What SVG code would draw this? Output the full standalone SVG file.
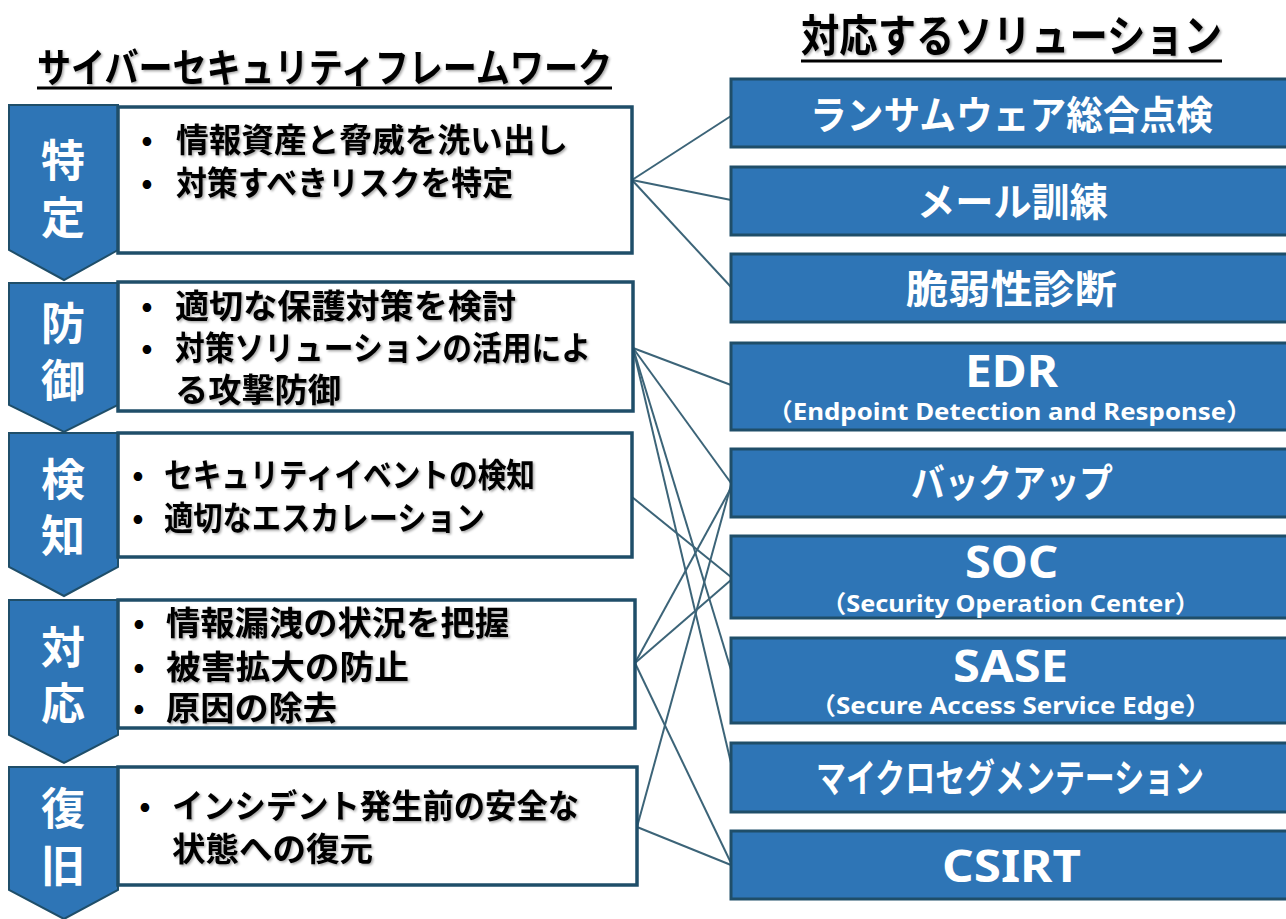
<svg xmlns="http://www.w3.org/2000/svg" width="1286" height="919" viewBox="0 0 1286 919">
<defs>
<filter id="sh" x="-5%" y="-20%" width="110%" height="140%">
<feDropShadow dx="1.5" dy="1.5" stdDeviation="0.8" flood-color="#000" flood-opacity="0.35"/>
</filter>
<style>
.chev{fill:#2E75B6;stroke:#1F4E69;stroke-width:2}
.box{fill:#fff;stroke:#1F4E69;stroke-width:3.5}
.sol{fill:#2E75B6;stroke:#1F4E69;stroke-width:3}
.jp{font-family:'Noto Sans CJK JP','Noto Sans CJK SC',sans-serif;font-weight:bold}
.lat{font-family:'Noto Sans','Open Sans','Noto Sans CJK JP',sans-serif;font-weight:bold}
.stage{fill:#fff;font-size:44px;text-anchor:middle}
.item{fill:#000;font-size:33px}
.bul{fill:#000;font-size:30px;text-anchor:middle}
.wt{fill:#fff;font-size:39px}
.big{fill:#fff;font-size:44px}
.sub{fill:#fff;font-size:24px}
.ttl{fill:#000}
.ul{stroke:#000;stroke-width:3}
.con line{stroke:#3C6478;stroke-width:2}
</style>
</defs>
<rect width="1286" height="919" fill="#fff"/>

<g id="title-left">
<text class="jp ttl" x="37" y="82" font-size="40" textLength="575" lengthAdjust="spacingAndGlyphs" filter="url(#sh)">サイバーセキュリティフレームワーク</text>
<line class="ul" x1="37" y1="88" x2="612" y2="88"/>
</g>
<g id="title-right">
<text class="jp ttl" x="801" y="52" font-size="44" textLength="421" lengthAdjust="spacingAndGlyphs" filter="url(#sh)">対応するソリューション</text>
<line class="ul" x1="801" y1="61" x2="1222" y2="61"/>
</g>

<g class="con" id="connectors">
<line x1="632" y1="180" x2="731" y2="116"/>
<line x1="632" y1="180" x2="731" y2="200"/>
<line x1="632" y1="180" x2="731" y2="287"/>
<line x1="633" y1="348" x2="731" y2="385"/>
<line x1="633" y1="348" x2="731" y2="483"/>
<line x1="633" y1="348" x2="731" y2="670"/>
<line x1="633" y1="348" x2="731" y2="763"/>
<line x1="632" y1="497" x2="731" y2="577"/>
<line x1="635" y1="663" x2="731" y2="488"/>
<line x1="635" y1="663" x2="731" y2="580"/>
<line x1="635" y1="663" x2="731" y2="863"/>
<line x1="637" y1="827" x2="731" y2="485"/>
<line x1="637" y1="827" x2="731" y2="865"/>
</g>

<g id="stage-identify">
<polygon class="chev" points="9,105 118,105 118,250 64,280 9,250"/>
<text class="jp stage" x="63" y="177">特</text>
<text class="jp stage" x="63" y="234">定</text>
<rect class="box" x="118" y="107" width="514" height="146"/>
<text class="jp bul" x="147" y="150">•</text>
<text class="jp item" x="176" y="152" textLength="392" lengthAdjust="spacingAndGlyphs" filter="url(#sh)">情報資産と脅威を洗い出し</text>
<text class="jp bul" x="147" y="193">•</text>
<text class="jp item" x="176" y="195" textLength="337" lengthAdjust="spacingAndGlyphs" filter="url(#sh)">対策すべきリスクを特定</text>
</g>

<g id="stage-protect">
<polygon class="chev" points="9,283 118,283 118,405 64,432 9,405"/>
<text class="jp stage" x="63" y="340">防</text>
<text class="jp stage" x="63" y="397">御</text>
<rect class="box" x="118" y="282" width="515" height="129"/>
<text class="jp bul" x="147" y="316">•</text>
<text class="jp item" x="175" y="318" textLength="341" lengthAdjust="spacingAndGlyphs" filter="url(#sh)">適切な保護対策を検討</text>
<text class="jp bul" x="147" y="358">•</text>
<text class="jp item" x="175" y="360" textLength="416" lengthAdjust="spacingAndGlyphs" filter="url(#sh)">対策ソリューションの活用によ</text>
<text class="jp item" x="175" y="402" textLength="166" lengthAdjust="spacingAndGlyphs" filter="url(#sh)">る攻撃防御</text>
</g>

<g id="stage-detect">
<polygon class="chev" points="9,433 118,433 118,567 64,596 9,567"/>
<text class="jp stage" x="63" y="496">検</text>
<text class="jp stage" x="63" y="552">知</text>
<rect class="box" x="118" y="433" width="514" height="124"/>
<text class="jp bul" x="138" y="485">•</text>
<text class="jp item" x="164" y="487" textLength="371" lengthAdjust="spacingAndGlyphs" filter="url(#sh)">セキュリティイベントの検知</text>
<text class="jp bul" x="138" y="528">•</text>
<text class="jp item" x="164" y="530" textLength="321" lengthAdjust="spacingAndGlyphs" filter="url(#sh)">適切なエスカレーション</text>
</g>

<g id="stage-respond">
<polygon class="chev" points="9,600 118,600 118,735 64,763 9,735"/>
<text class="jp stage" x="63" y="664">対</text>
<text class="jp stage" x="63" y="720">応</text>
<rect class="box" x="118" y="600" width="517" height="128"/>
<text class="jp bul" x="139" y="633">•</text>
<text class="jp item" x="166" y="635" textLength="343" lengthAdjust="spacingAndGlyphs" filter="url(#sh)">情報漏洩の状況を把握</text>
<text class="jp bul" x="139" y="677">•</text>
<text class="jp item" x="166" y="679" textLength="243" lengthAdjust="spacingAndGlyphs" filter="url(#sh)">被害拡大の防止</text>
<text class="jp bul" x="139" y="718">•</text>
<text class="jp item" x="166" y="720" textLength="171" lengthAdjust="spacingAndGlyphs" filter="url(#sh)">原因の除去</text>
</g>

<g id="stage-recover">
<polygon class="chev" points="9,767 118,767 118,890 64,919 9,890"/>
<text class="jp stage" x="63" y="825">復</text>
<text class="jp stage" x="63" y="882">旧</text>
<rect class="box" x="118" y="767" width="519" height="118"/>
<text class="jp bul" x="145" y="816">•</text>
<text class="jp item" x="172" y="818" textLength="407" lengthAdjust="spacingAndGlyphs" filter="url(#sh)">インシデント発生前の安全な</text>
<text class="jp item" x="172" y="861" textLength="201" lengthAdjust="spacingAndGlyphs" filter="url(#sh)">状態への復元</text>
</g>

<g id="sol-ransomware">
<rect class="sol" x="731" y="79" width="560" height="68"/>
<text class="jp wt" x="810" y="129" textLength="403" lengthAdjust="spacingAndGlyphs">ランサムウェア総合点検</text>
</g>
<g id="sol-mail">
<rect class="sol" x="731" y="167" width="560" height="68"/>
<text class="jp wt" x="917" y="216" textLength="191" lengthAdjust="spacingAndGlyphs">メール訓練</text>
</g>
<g id="sol-vuln">
<rect class="sol" x="731" y="254" width="560" height="68"/>
<text class="jp wt" x="906" y="303" textLength="211" lengthAdjust="spacingAndGlyphs">脆弱性診断</text>
</g>
<g id="sol-edr">
<rect class="sol" x="731" y="343" width="560" height="87"/>
<text class="lat big" x="965" y="387" textLength="93" lengthAdjust="spacingAndGlyphs">EDR</text>
<text class="lat sub" x="767" y="420" textLength="485" lengthAdjust="spacingAndGlyphs">（Endpoint Detection and Response）</text>
</g>
<g id="sol-backup">
<rect class="sol" x="731" y="449" width="560" height="68"/>
<text class="jp wt" x="911" y="497" textLength="202" lengthAdjust="spacingAndGlyphs">バックアップ</text>
</g>
<g id="sol-soc">
<rect class="sol" x="731" y="536" width="560" height="82"/>
<text class="lat big" x="965" y="578" textLength="93" lengthAdjust="spacingAndGlyphs">SOC</text>
<text class="lat sub" x="821" y="612" textLength="379" lengthAdjust="spacingAndGlyphs">（Security Operation Center）</text>
</g>
<g id="sol-sase">
<rect class="sol" x="731" y="638" width="560" height="85"/>
<text class="lat big" x="953" y="682" textLength="115" lengthAdjust="spacingAndGlyphs">SASE</text>
<text class="lat sub" x="810" y="714" textLength="401" lengthAdjust="spacingAndGlyphs">（Secure Access Service Edge）</text>
</g>
<g id="sol-microseg">
<rect class="sol" x="731" y="743" width="560" height="69"/>
<text class="jp wt" x="816" y="792" font-size="35" textLength="388" lengthAdjust="spacingAndGlyphs">マイクロセグメンテーション</text>
</g>
<g id="sol-csirt">
<rect class="sol" x="731" y="831" width="560" height="68"/>
<text class="lat big" x="942" y="882" textLength="139" lengthAdjust="spacingAndGlyphs">CSIRT</text>
</g>
</svg>
